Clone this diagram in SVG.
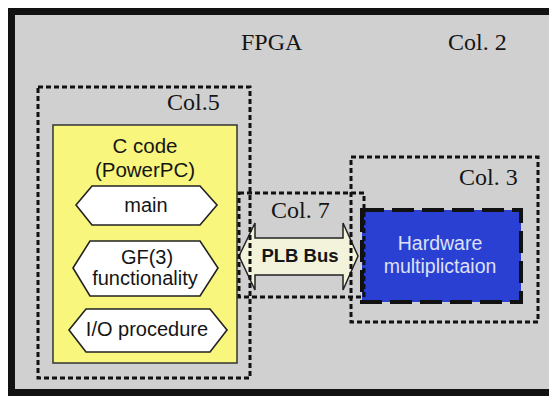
<svg xmlns="http://www.w3.org/2000/svg" width="549" height="396" viewBox="0 0 549 396">
  <style>
    .serif { font-family: "Liberation Serif", "Times New Roman", serif; font-size: 24px; fill: #151515; }
    .sans { font-family: "Liberation Sans", Arial, sans-serif; font-size: 20px; fill: #151515; text-anchor: middle; }
    .dotted { fill: none; stroke: #111; stroke-width: 3; stroke-dasharray: 5 3; }
    .hex { fill: #ffffff; stroke: #222; stroke-width: 1.6; }
  </style>

  <rect x="0" y="0" width="549" height="396" fill="#ffffff"/>

  <!-- FPGA chip outline (Col. 2) -->
  <g id="fpga">
    <rect x="11.5" y="11.5" width="560" height="381" fill="#d0d0d0" stroke="#121212" stroke-width="7"/>
    <text class="serif" x="241" y="50">FPGA</text>
    <text class="serif" x="448" y="50">Col. 2</text>
  </g>

  <!-- C code block running on the PowerPC -->
  <g id="ccode">
    <rect x="53" y="125" width="184" height="238" fill="#f8f67c" stroke="#333" stroke-width="1.5"/>
    <text class="sans" x="145" y="153" style="font-size:20.5px">C code</text>
    <text class="sans" x="145" y="177" style="font-size:20.5px">(PowerPC)</text>
  </g>

  <g id="main">
    <polygon class="hex" points="76,205 92,186 200,186 217,205 200,225 92,225"/>
    <text class="sans" x="146" y="212">main</text>
  </g>

  <g id="gf3">
    <polygon class="hex" points="73,268 90,241 200,241 218,268 200,296 90,296"/>
    <text class="sans" x="147" y="264">GF(3)</text>
    <text class="sans" x="145" y="285">functionality</text>
  </g>

  <g id="io">
    <polygon class="hex" points="69,330 86,309 210,309 227,330 210,352 86,352"/>
    <text class="sans" x="147" y="336">I/O procedure</text>
  </g>

  <!-- hardware multiplier -->
  <g id="hw">
    <rect x="362" y="210" width="159" height="92" fill="#2a40d2" stroke="#111" stroke-width="4" stroke-dasharray="22 8"/>
    <text class="sans" x="440" y="250" style="fill:#dde0f6;font-size:19.5px">Hardware</text>
    <text class="sans" x="440" y="273" style="fill:#dde0f6;font-size:19.5px">multiplictaion</text>
  </g>

  <!-- PLB bus link -->
  <g id="connectors">
    <path d="M239,256 L255,223 L255,238 L343,238 L343,223 L358,256 L343,290 L343,275 L255,275 L255,290 Z" fill="#f3f3dc" stroke="#222" stroke-width="1.5"/>
    <text x="300" y="262" style="font-family:'Liberation Sans', Arial, sans-serif; font-size:18.5px; font-weight:bold; fill:#151515; text-anchor:middle">PLB Bus</text>
  </g>

  <!-- column regions -->
  <g id="col5">
    <rect class="dotted" x="38" y="87" width="212" height="291"/>
    <text class="serif" x="167" y="110">Col.5</text>
  </g>

  <g id="col7">
    <rect class="dotted" x="239" y="193" width="125" height="104"/>
    <text class="serif" x="271" y="218">Col. 7</text>
  </g>

  <g id="col3">
    <rect class="dotted" x="351" y="157" width="187" height="165"/>
    <text class="serif" x="459" y="185">Col. 3</text>
  </g>
</svg>
